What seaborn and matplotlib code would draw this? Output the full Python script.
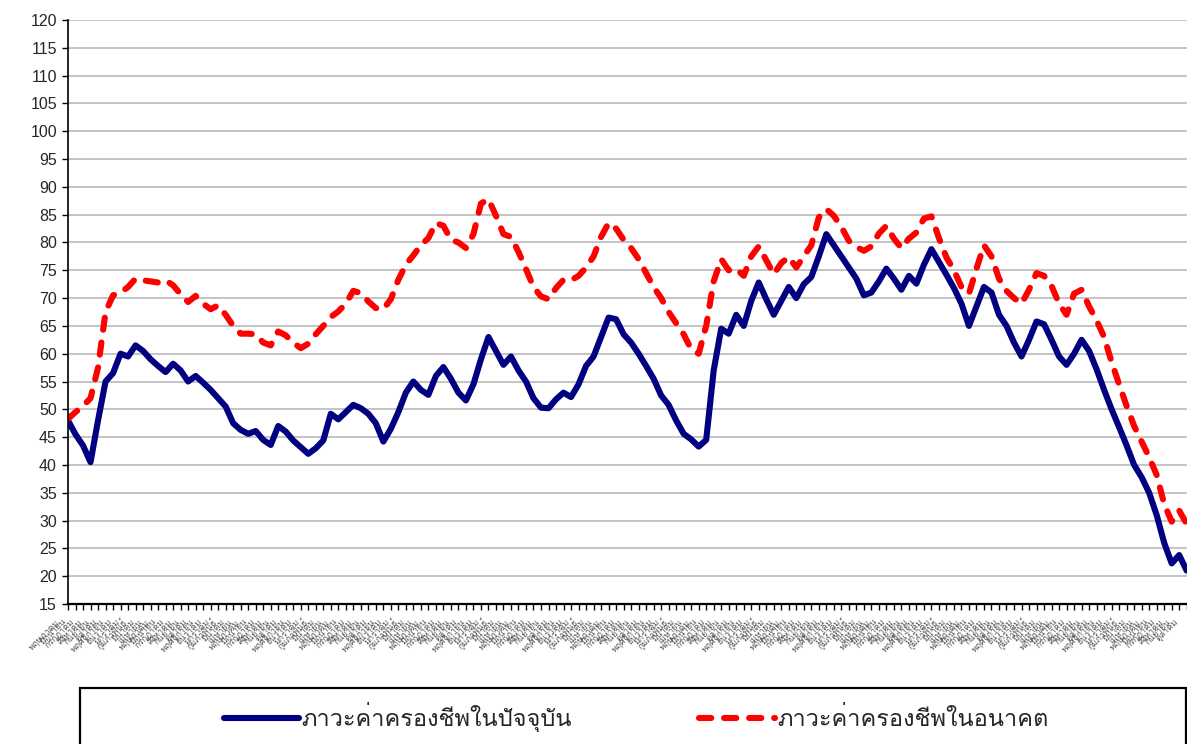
import numpy as np
import pandas as pd
import seaborn as sns
import matplotlib
matplotlib.use("Agg")
import matplotlib.pyplot as plt
from matplotlib import font_manager
from matplotlib.patches import Rectangle
from matplotlib.ft2font import FT2Font

# ---------------- data ----------------
present = [48, 45.5, 43.5, 40.5, 48, 55, 56.5, 60, 59.5, 61.5,
           60.5, 59, 57.8, 56.7, 58.2, 57, 55, 56, 54.8, 53.5,
           52, 50.5, 47.5, 46.3, 45.6, 46.1, 44.5, 43.6, 47, 46,
           44.4, 43.2, 42, 43, 44.4, 49.2, 48.2, 49.5, 50.8, 50.2,
           49.2, 47.5, 44.2, 46.5, 49.5, 53, 55, 53.5, 52.6, 56,
           57.6, 55.5, 53, 51.6, 54.5, 59, 63, 60.5, 58, 59.5,
           57, 55, 52, 50.3, 50.2, 51.8, 53, 52.2, 54.5, 57.8,
           59.5, 63, 66.5, 66.2, 63.5, 62, 60, 57.8, 55.5, 52.5,
           50.8, 48, 45.6, 44.6, 43.3, 44.5, 57, 64.5, 63.6, 67,
           65, 69.5, 72.8, 69.8, 67, 69.5, 72, 70, 72.5, 73.8,
           77.5, 81.5, 79.5, 77.5, 75.5, 73.5, 70.5, 71, 73, 75.3,
           73.5, 71.5, 74, 72.6, 76, 78.8, 76.5, 74.2, 71.8, 69,
           65, 68.5, 72, 71, 67, 65, 62, 59.5, 62.5, 65.8,
           65.3, 62.5, 59.5, 58, 60, 62.5, 60.5, 57.2, 53.5, 50,
           46.8, 43.5, 40, 37.8, 35, 31, 26, 22.3, 23.8, 21]

future = [48.3, 49.5, 50.6, 52, 57.5, 67.5, 70.5, 71, 72, 73.5,
          73.2, 73, 72.8, 73.2, 72.3, 70.7, 69.3, 70.4, 69, 68,
          68.7, 67, 65, 63.6, 63.6, 63.5, 62, 61.5, 64, 63.3,
          62, 61, 61.8, 63.5, 65, 66.6, 67.6, 69, 71.3, 70.9,
          69.4, 68.2, 68, 69.8, 73.3, 76, 77.7, 79.5, 80.8, 83.5,
          83, 80.5, 80, 79, 81.5, 87, 87.8, 84.8, 81.5, 81,
          78.3, 75.2, 72, 70.3, 69.8, 71.8, 73.3, 73.2, 74, 75.5,
          77.5, 81, 83.5, 82.5, 80.5, 79, 77, 74.5, 72, 70,
          67.5, 65.5, 63.5, 60.8, 60, 65, 73, 77, 75, 75.3,
          74, 77.5, 79.3, 76.8, 74.3, 76.3, 77.4, 75.5, 77.5, 79.5,
          84.5, 86, 84.8, 82.8, 80.3, 79.2, 78.5, 79.3, 81.6, 83,
          80.7, 79, 80.7, 81.8, 84.3, 84.7, 80.8, 77.3, 75, 72,
          70.8, 75.3, 79.5, 77.5, 73.5, 71.3, 70, 69, 71.5, 74.5,
          74, 72.2, 69, 67, 70.8, 71.5, 68.5, 66, 63, 58.5,
          54.5, 50.6, 47, 44.2, 41.4, 38.2, 33, 29.8, 31.8, 29.4]

thai_months = ["มกราคม", "กุมภาพันธ์", "มีนาคม", "เมษายน", "พฤษภาคม", "มิถุนายน",
               "กรกฎาคม", "สิงหาคม", "กันยายน", "ตุลาคม", "พฤศจิกายน", "ธันวาคม"]
start_month = 4  # พฤษภาคม
y_ticks = list(range(15, 121, 5))
series_names = ["ภาวะค่าครองชีพในปัจจุบัน", "ภาวะค่าครองชีพในอนาคต"]

n = len(present)
x_labels = [thai_months[(start_month + i) % 12] for i in range(n)]

# ---------------- fonts ----------------
sns.set_theme(style="white")

needed = set("".join(series_names) + "".join(thai_months))


def find_thai_font():
    best = (0, None, None)
    for f in sorted(font_manager.findSystemFonts()):
        try:
            ft = FT2Font(f)
            cmap = ft.get_charmap()
            cov = sum(1 for ch in needed if ord(ch) in cmap)
            if cov > best[0]:
                best = (cov, font_manager.FontProperties(fname=f).get_name(), f)
        except Exception:
            continue
    return best[1], best[2]


thai_name, thai_file = find_thai_font()
if thai_file:
    font_manager.fontManager.addfont(thai_file)
families = ["Liberation Sans"] + ([thai_name] if thai_name else []) + ["DejaVu Sans"]
plt.rcParams["font.family"] = families

# ---------------- figure ----------------
W, H = 1187, 744
fig = plt.figure(figsize=(W / 100, H / 100), dpi=100)
left, right, top, bottom = 68, 1187, 20, 604
ax = fig.add_axes([left / W, 1 - bottom / H, (right - left) / W, (bottom - top) / H])

df = pd.DataFrame({"idx": np.arange(n), series_names[0]: present, series_names[1]: future})
long = df.melt(id_vars="idx", var_name="series", value_name="value")

sns.lineplot(data=long[long.series == series_names[0]], x="idx", y="value", ax=ax,
             color="#000080", lw=4.4, label=series_names[0], legend=False,
             solid_joinstyle="round", solid_capstyle="round")
sns.lineplot(data=long[long.series == series_names[1]], x="idx", y="value", ax=ax,
             color="#ff0000", lw=4.4, label=series_names[1], legend=False)
red_line = ax.lines[-1]
red_line.set_dashes((2.0, 2.1))
red_line.set_dash_capstyle("round")
red_line.set_dash_joinstyle("round")

ax.set_xlim(0, (right - 68) / 7.508)
ax.set_ylim(15, 120)
ax.set_yticks(y_ticks)
ax.set_yticklabels([str(v) for v in y_ticks], fontsize=11.5)
ax.set_xticks(np.arange(n))
ax.set_xticklabels([])
# month labels, rotated, hung just left of each tick
for i, lab in enumerate(x_labels):
    ax.annotate(lab, xy=(i, 0), xycoords=("data", "axes fraction"),
                xytext=(-7, -12), textcoords="offset points",
                rotation=45, ha="right", va="center", rotation_mode="anchor",
                fontsize=6.3, color="#555555", annotation_clip=False)
ax.set_xlabel("")
ax.set_ylabel("")
ax.yaxis.grid(True, color="#c4c4c4", lw=1.4)
ax.xaxis.grid(False)
ax.set_axisbelow(True)
for s in ["top", "right"]:
    ax.spines[s].set_visible(False)
ax.spines["left"].set_color("black")
ax.spines["left"].set_linewidth(1.2)
ax.spines["bottom"].set_color("black")
ax.spines["bottom"].set_linewidth(1.6)
ax.tick_params(axis="y", which="major", direction="out", length=4, width=1, color="black",
               left=True, pad=4)
ax.tick_params(axis="x", which="major", direction="out", length=4, width=1, color="black",
               bottom=True)

# legend box
box = Rectangle((80 / W, 1 - 760 / H), (1186 - 80) / W, (760 - 688) / H,
                transform=fig.transFigure, fill=False, edgecolor="black", lw=1.6,
                clip_on=False)
fig.patches.append(box)
handles = ax.lines[:2]
fig.legend(handles, series_names, loc="center", bbox_to_anchor=(636 / W, 1 - 717 / H),
           ncol=2, frameon=False, fontsize=17, handlelength=3.2, handletextpad=0.08,
           columnspacing=5.4)

fig.savefig("out.png", dpi=100)
